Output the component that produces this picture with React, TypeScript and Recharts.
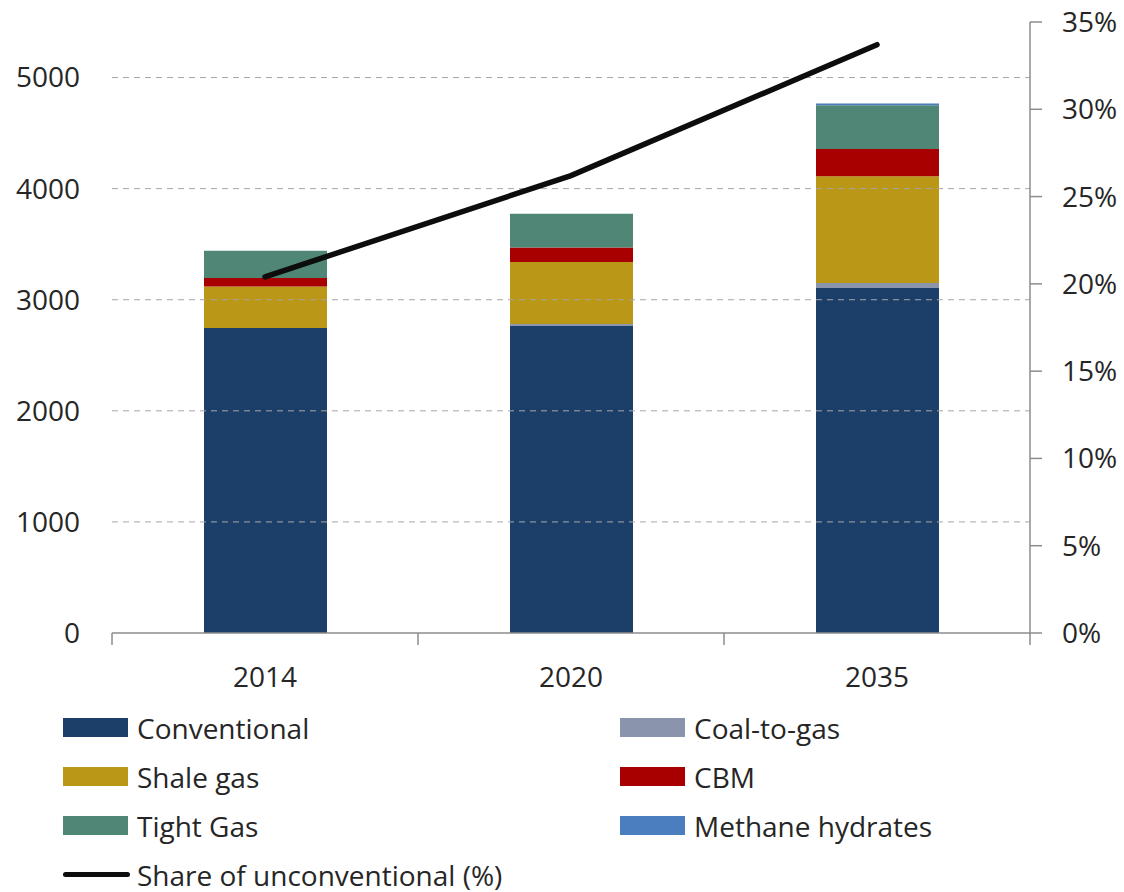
import React from 'react';
import { ComposedChart, Bar, Line, XAxis, YAxis, ReferenceLine, Legend } from 'recharts';

const years = ['2014', '2020', '2035'];
const conventional = [2745, 2768, 3105];
const coalToGas = [0, 13, 45];
const shaleGas = [375, 558, 961];
const cbm = [75, 132, 246];
const tightGas = [246, 304, 394];
const methaneHydrates = [0, 0, 15];
const shareUnconventional = [0.204, 0.262, 0.337];

const leftTicks = [0, 1000, 2000, 3000, 4000, 5000];
const gridTicks = [1000, 2000, 3000, 4000, 5000];
const rightTicks = [0, 0.05, 0.1, 0.15, 0.2, 0.25, 0.3, 0.35];
// category boundaries (integers) and category centres (halves)
const edgeTicks = [0, 0.5, 1, 1.5, 2, 2.5, 3];

const series = [
  { key: 'conventional', name: 'Conventional', color: '#1C3F6A' },
  { key: 'coal', name: 'Coal-to-gas', color: '#8A95AD' },
  { key: 'shale', name: 'Shale gas', color: '#BA9717' },
  { key: 'cbm', name: 'CBM', color: '#A80000' },
  { key: 'tight', name: 'Tight Gas', color: '#4F8675' },
  { key: 'methane', name: 'Methane hydrates', color: '#4A7EBF' },
];

const data = years.map((y, i) => ({
  year: y,
  conventional: conventional[i],
  coal: coalToGas[i],
  shale: shaleGas[i],
  cbm: cbm[i],
  tight: tightGas[i],
  methane: methaneHydrates[i],
  share: shareUnconventional[i],
}));

const FONT = '"Open Sans", sans-serif';
const TEXT = '#262626';
const AXIS = '#8c8c8c';

const legendItems = [
  { name: 'Conventional', color: '#1C3F6A', line: false },
  { name: 'Coal-to-gas', color: '#8A95AD', line: false },
  { name: 'Shale gas', color: '#BA9717', line: false },
  { name: 'CBM', color: '#A80000', line: false },
  { name: 'Tight Gas', color: '#4F8675', line: false },
  { name: 'Methane hydrates', color: '#4A7EBF', line: false },
  { name: 'Share of unconventional (%)', color: '#0d0d0d', line: true },
];

const LegendContent = () => (
  <div
    style={{
      display: 'grid',
      gridTemplateColumns: '557px 500px',
      paddingLeft: 63,
      paddingTop: 11,
      fontFamily: FONT,
      fontSize: 28,
      lineHeight: '34px',
      color: TEXT,
    }}
  >
    {legendItems.map((it) => (
      <div key={it.name} style={{ display: 'flex', alignItems: 'center', height: 49 }}>
        {it.line ? (
          <div style={{ width: 67, height: 5, background: it.color, borderRadius: 3, marginRight: 7 }} />
        ) : (
          <div style={{ width: 65, height: 19, background: it.color, marginRight: 9 }} />
        )}
        <span style={{ whiteSpace: 'nowrap' }}>{it.name}</span>
      </div>
    ))}
  </div>
);

const EdgeTick = (props: any) => {
  const { x, y, payload } = props;
  const v = payload.value as number;
  if (Number.isInteger(v)) {
    return <line x1={x} x2={x} y1={y} y2={y + 12} stroke={AXIS} strokeWidth={1.5} />;
  }
  const label = years[Math.floor(v)] ?? '';
  return (
    <text x={x} y={y + 54} textAnchor="middle" fill={TEXT} fontSize={28} fontFamily={FONT}>
      {label}
    </text>
  );
};

const centreOf = (d: any) => years.indexOf(d.year) + 0.5;

export default function App() {
  return (
    <div style={{ position: 'absolute', left: 0, top: 0, width: 1124, height: 892, background: '#fff' }}>
      <ComposedChart
        width={1124}
        height={892}
        data={data}
        margin={{ top: 22, right: 0, bottom: 0, left: 0 }}
      >
        <XAxis xAxisId="cat" dataKey="year" hide height={0} />
        <XAxis
          xAxisId="edge"
          type="number"
          dataKey={centreOf}
          domain={[0, 3]}
          allowDataOverflow
          ticks={edgeTicks}
          interval={0}
          height={59}
          axisLine={{ stroke: AXIS, strokeWidth: 1.5 }}
          tickLine={false}
          tickSize={0}
          tickMargin={0}
          tick={<EdgeTick />}
        />
        <YAxis
          yAxisId="left"
          domain={[0, 5500]}
          ticks={leftTicks}
          width={112}
          axisLine={false}
          tickLine={false}
          tickSize={0}
          tickMargin={32}
          tick={{ fill: TEXT, fontSize: 28, fontFamily: FONT }}
        />
        <YAxis
          yAxisId="right"
          orientation="right"
          domain={[0, 0.35]}
          ticks={rightTicks}
          width={94}
          axisLine={{ stroke: AXIS, strokeWidth: 1.5 }}
          tickLine={{ stroke: AXIS, strokeWidth: 1.5 }}
          tickSize={12}
          tickMargin={20}
          tickFormatter={(v: number) => `${Math.round(v * 100)}%`}
          tick={{ fill: TEXT, fontSize: 28, fontFamily: FONT }}
        />
        {gridTicks.map((t) => (
          <ReferenceLine
            key={t}
            y={t}
            yAxisId="left"
            xAxisId="cat"
            stroke="#a6a6a6"
            strokeDasharray="6 5"
          />
        ))}
        {series.map((s) => (
          <Bar
            key={s.key}
            xAxisId="cat"
            yAxisId="left"
            dataKey={s.key}
            name={s.name}
            stackId="a"
            fill={s.color}
            barSize={123}
            isAnimationActive={false}
          />
        ))}
        <Line
          xAxisId="cat"
          yAxisId="right"
          dataKey="share"
          name="Share of unconventional (%)"
          stroke="#0d0d0d"
          strokeWidth={5.5}
          strokeLinecap="round"
          dot={false}
          activeDot={false}
          isAnimationActive={false}
        />
        <Legend
          verticalAlign="bottom"
          align="left"
          height={200}
          content={<LegendContent />}
          wrapperStyle={{ left: 0, width: 1124 }}
        />
      </ComposedChart>
    </div>
  );
}
